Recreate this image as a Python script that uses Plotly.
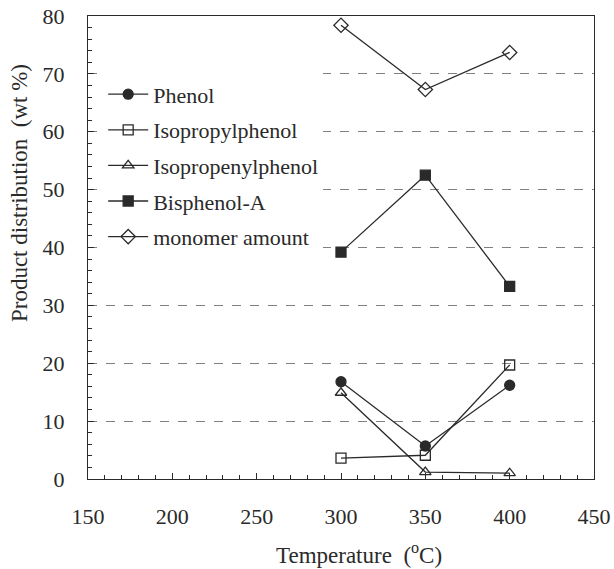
import plotly.graph_objects as go

temps = [300, 350, 400]
phenol = [16.8, 5.7, 16.2]
isopropylphenol = [3.6, 4.1, 19.7]
isopropenylphenol = [14.9, 1.2, 1.0]
bisphenol_a = [39.2, 52.5, 33.3]
monomer = [78.4, 67.3, 73.7]

names = ["Phenol", "Isopropylphenol", "Isopropenylphenol", "Bisphenol-A", "monomer amount"]
series = [phenol, isopropylphenol, isopropenylphenol, bisphenol_a, monomer]
symbols = ["circle", "square-open", "triangle-up-open", "square", "diamond-open"]

ink = "#2a2a2a"
fig = go.Figure()
for i, (n, s, sym) in enumerate(zip(names, series, symbols)):
    fig.add_trace(go.Scatter(
        x=temps, y=s, name=n, mode="lines+markers",
        legendgroup=f"g{i}",
        line=dict(color=ink, width=1.3),
        marker=dict(symbol=sym, size=11 if "diamond" in sym else 10, color=ink,
                    line=dict(color=ink, width=1.3)),
    ))

font = "Liberation Serif, Times New Roman, DejaVu Serif, serif"
fig.update_layout(
    width=614, height=569,
    margin=dict(l=88, r=20, t=16, b=90, autoexpand=False),
    paper_bgcolor="white", plot_bgcolor="white",
    font=dict(family=font, size=22, color=ink),
    legend=dict(x=0.03, y=0.876, xanchor="left", yanchor="top",
                bgcolor="white", font=dict(size=22, family=font, color=ink),
                tracegroupgap=4, itemwidth=40),
    showlegend=True,
    annotations=[
        dict(text="Temperature  (<sup>o</sup>C)", xref="paper", yref="paper",
             x=0.536, y=-0.16, xanchor="center", yanchor="middle", showarrow=False,
             font=dict(family=font, size=23, color=ink)),
        dict(text="Product distribution  (wt %)", xref="paper", yref="paper",
             x=-0.134, y=0.618, xanchor="center", yanchor="middle", showarrow=False,
             textangle=-90, font=dict(family=font, size=23, color=ink)),
    ],
)
fig.update_xaxes(
    range=[150, 450], tickvals=[150, 200, 250, 300, 350, 400, 450],
    ticks="inside", ticklen=6, tickcolor=ink, showline=True, linecolor=ink, linewidth=1.3,
    mirror=True, showgrid=False, zeroline=False, automargin=False,
    tickfont=dict(family=font, size=22), ticklabeloverflow="allow",
    minor=dict(dtick=10, ticks="inside", ticklen=4, tickcolor=ink, showgrid=False),
    ticklabelstandoff=17,
)
fig.update_yaxes(
    range=[0, 80], tickvals=[0, 10, 20, 30, 40, 50, 60, 70, 80],
    ticks="inside", ticklen=6, tickcolor=ink, showline=True, linecolor=ink, linewidth=1.3,
    mirror=True, showgrid=True, gridcolor="#808080", griddash="dash", gridwidth=1,
    zeroline=False, automargin=False,
    tickfont=dict(family=font, size=22), ticklabeloverflow="allow",
    minor=dict(dtick=2, ticks="inside", ticklen=4, tickcolor=ink, showgrid=False),
    ticklabelstandoff=18,
)
fig.write_html("out.html", config={"displayModeBar": False},
               post_script="document.body.style.margin='0px';")
